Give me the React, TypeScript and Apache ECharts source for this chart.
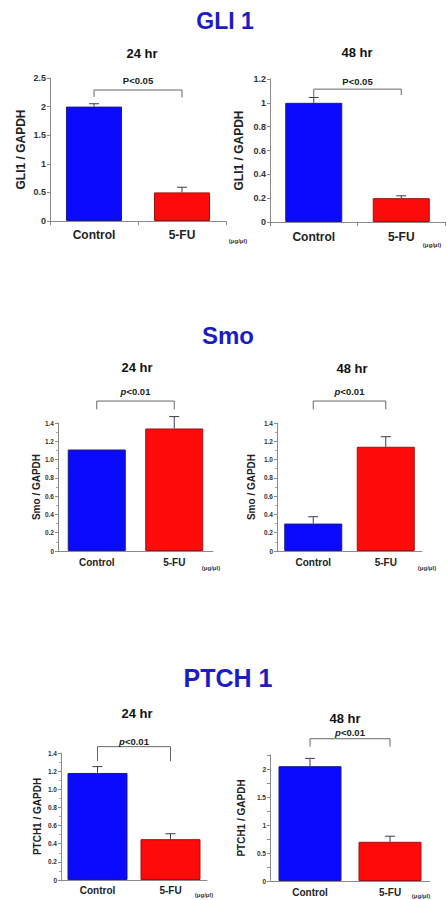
import React, { useEffect, useRef } from "react";
import * as echarts from "echarts";

// ---------- data ----------
const categories = ["Control", "5-FU"];
const barColors = ["#0a0aff", "#ff0a0a"];
const barBorders = ["#1a1a8a", "#a01010"];

const gli24Values = [2.0, 0.5];
const gli24ErrTop = [2.05, 0.59];
const gli48Values = [1.0, 0.2];
const gli48ErrTop = [1.045, 0.22];

const smo24Values = [1.11, 1.34];
const smo24ErrTop = [1.11, 1.47];
const smo48Values = [0.3, 1.14];
const smo48ErrTop = [0.375, 1.25];

const ptch24Values = [1.18, 0.45];
const ptch24ErrTop = [1.25, 0.51];
const ptch48Values = [2.05, 0.7];
const ptch48ErrTop = [2.19, 0.8];

// bracket: [top, left leg bottom, right leg bottom, label level]
const gli24Bracket = [2.29, 2.17, 2.16, 2.45];
const gli48Bracket = [1.115, 1.05, 1.065, 1.175];
const smo24Bracket = [1.64, 1.55, 1.55, 1.75];
const smo48Bracket = [1.64, 1.55, 1.55, 1.75];
const ptch24Bracket = [1.47, 1.31, 1.31, 1.525];
const ptch48Bracket = [2.54, 2.4, 2.4, 2.66];

const gliSig = "P<0.05";
const pSig = "{i|p}<0.01";
const unitLabel = "(μg/μl)";

const FONT = "Liberation Sans, Arial, sans-serif";

type Panel = {
  grid: { left: number; top: number; width: number; height: number };
  values: number[];
  errTop: number[];
  bracket: number[];
  sig: string;
  sigSize: number;
  yName: string;
  yNameGap: number;
  yMax: number;
  yInterval: number;
  yFormatter?: (v: number) => string;
  yLabelSize: number;
  xLabelSize: number;
  xLabelMargin: number;
  barWidth: number;
  xTicks: boolean;
  minor: boolean;
  yNameSize: number;
};

const oneDec = (v: number) => (v === 0 ? "0" : v.toFixed(1));
const halfOnly = (v: number) =>
  Math.abs(v * 2 - Math.round(v * 2)) < 1e-6 ? String(+v.toFixed(2)) : "";

const panels: Panel[] = [
  {
    grid: { left: 50, top: 78, width: 176, height: 143 },
    values: gli24Values, errTop: gli24ErrTop, bracket: gli24Bracket,
    sig: gliSig, sigSize: 9.5, yName: "GLI1 / GAPDH", yNameGap: 23,
    yMax: 2.5, yInterval: 0.5, yLabelSize: 9, xLabelSize: 12, xLabelMargin: 8,
    barWidth: 56, xTicks: true, minor: false, yNameSize: 12,
  },
  {
    grid: { left: 270, top: 79, width: 175, height: 143 },
    values: gli48Values, errTop: gli48ErrTop, bracket: gli48Bracket,
    sig: gliSig, sigSize: 9.5, yName: "GLI1 / GAPDH", yNameGap: 25,
    yMax: 1.2, yInterval: 0.2, yLabelSize: 9, xLabelSize: 12, xLabelMargin: 9,
    barWidth: 57, xTicks: true, minor: false, yNameSize: 12,
  },
  {
    grid: { left: 58, top: 423, width: 155, height: 128 },
    values: smo24Values, errTop: smo24ErrTop, bracket: smo24Bracket,
    sig: pSig, sigSize: 9.5, yName: "Smo / GAPDH", yNameGap: 17,
    yMax: 1.4, yInterval: 0.2, yFormatter: oneDec, yLabelSize: 6.5, xLabelSize: 10,
    xLabelMargin: 6, barWidth: 58, xTicks: false, minor: true, yNameSize: 10,
  },
  {
    grid: { left: 277, top: 423, width: 145, height: 128 },
    values: smo48Values, errTop: smo48ErrTop, bracket: smo48Bracket,
    sig: pSig, sigSize: 9.5, yName: "Smo / GAPDH", yNameGap: 21,
    yMax: 1.4, yInterval: 0.2, yFormatter: oneDec, yLabelSize: 6.5, xLabelSize: 10,
    xLabelMargin: 6, barWidth: 58, xTicks: false, minor: true, yNameSize: 10,
  },
  {
    grid: { left: 61, top: 753, width: 146, height: 127 },
    values: ptch24Values, errTop: ptch24ErrTop, bracket: ptch24Bracket,
    sig: pSig, sigSize: 9.5, yName: "PTCH1 / GAPDH", yNameGap: 19,
    yMax: 1.4, yInterval: 0.2, yFormatter: oneDec, yLabelSize: 6.5, xLabelSize: 10,
    xLabelMargin: 5, barWidth: 60, xTicks: false, minor: true, yNameSize: 10,
  },
  {
    grid: { left: 270, top: 755, width: 160, height: 126 },
    values: ptch48Values, errTop: ptch48ErrTop, bracket: ptch48Bracket,
    sig: pSig, sigSize: 9.5, yName: "PTCH1 / GAPDH", yNameGap: 24,
    yMax: 2.25, yInterval: 0.25, yFormatter: halfOnly, yLabelSize: 6.5, xLabelSize: 10,
    xLabelMargin: 6, barWidth: 63, xTicks: false, minor: false, yNameSize: 10,
  },
];

const headings = [
  { text: "GLI 1", x: 225, y: 21, size: 23 },
  { text: "Smo", x: 228, y: 335, size: 24 },
  { text: "PTCH 1", x: 228, y: 678, size: 25 },
];
const subHeadings = [
  { text: "24 hr", x: 142, y: 53 },
  { text: "48 hr", x: 357, y: 52 },
  { text: "24 hr", x: 137, y: 367 },
  { text: "48 hr", x: 352, y: 368 },
  { text: "24 hr", x: 137, y: 713 },
  { text: "48 hr", x: 345, y: 718 },
];
const unitPos = [
  { x: 238, y: 241 },
  { x: 432, y: 245 },
  { x: 211, y: 568 },
  { x: 427, y: 568 },
  { x: 204, y: 895 },
  { x: 421, y: 896 },
];

function buildOption() {
  const grid: any[] = [];
  const xAxis: any[] = [];
  const yAxis: any[] = [];
  const series: any[] = [];

  panels.forEach((p, i) => {
    grid.push({ ...p.grid, containLabel: false });
    xAxis.push({
      type: "category",
      gridIndex: i,
      data: categories,
      axisLine: { lineStyle: { color: "#8a8a8a", width: 1 } },
      axisTick: { show: p.xTicks, length: 4, lineStyle: { color: "#8a8a8a" } },
      axisLabel: {
        fontSize: p.xLabelSize,
        fontWeight: "bold",
        color: "#222",
        fontFamily: FONT,
        margin: p.xLabelMargin,
      },
    });
    yAxis.push({
      type: "value",
      gridIndex: i,
      min: 0,
      max: p.yMax,
      interval: p.yInterval,
      name: p.yName,
      nameLocation: "middle",
      nameRotate: 90,
      nameGap: p.yNameGap,
      nameTextStyle: {
        fontSize: p.yNameSize,
        fontWeight: "bold",
        color: "#222",
        fontFamily: FONT,
      },
      axisLine: { show: true, lineStyle: { color: "#8a8a8a", width: 1 } },
      axisTick: { show: true, length: 3, lineStyle: { color: "#8a8a8a" } },
      minorTick: { show: p.minor, splitNumber: 2, length: 2, lineStyle: { color: "#aaa" } },
      splitLine: { show: false },
      axisLabel: {
        fontSize: p.yLabelSize,
        fontWeight: "bold",
        color: "#333",
        fontFamily: FONT,
        margin: 4,
        formatter: p.yFormatter,
        showMaxLabel: true,
      },
    });
    series.push({
      type: "bar",
      xAxisIndex: i,
      yAxisIndex: i,
      barWidth: p.barWidth,
      data: p.values.map((v, j) => ({
        value: v,
        itemStyle: { color: barColors[j], borderColor: barBorders[j], borderWidth: 1 },
      })),
      silent: true,
    });
    series.push({
      type: "custom",
      xAxisIndex: i,
      yAxisIndex: i,
      data: p.values.map((v, j) => [j, v, p.errTop[j]]),
      renderItem: (params: any, api: any) => {
        if (api.value(2) <= api.value(1)) return { type: "group", children: [] };
        const base = api.coord([api.value(0), api.value(1)]);
        const top = api.coord([api.value(0), api.value(2)]);
        const st = { stroke: "#3a3a50", lineWidth: 1 };
        return {
          type: "group",
          children: [
            { type: "line", shape: { x1: base[0], y1: base[1], x2: top[0], y2: top[1] }, style: st },
            { type: "line", shape: { x1: top[0] - 5, y1: top[1], x2: top[0] + 5, y2: top[1] }, style: st },
          ],
        };
      },
      z: 3,
      silent: true,
    });
    series.push({
      type: "custom",
      xAxisIndex: i,
      yAxisIndex: i,
      data: [p.bracket],
      encode: { x: -1, y: 0 },
      renderItem: (params: any, api: any) => {
        const topV = api.value(0);
        const lV = api.value(1);
        const rV = api.value(2);
        const tV = api.value(3);
        const lt = api.coord([0, topV]);
        const lb = api.coord([0, lV]);
        const rt = api.coord([1, topV]);
        const rb = api.coord([1, rV]);
        const ty = api.coord([0, tV])[1];
        const tx = (lt[0] + rt[0]) / 2;
        return {
          type: "group",
          children: [
            {
              type: "polyline",
              shape: { points: [[lb[0], lb[1]], [lt[0], lt[1]], [rt[0], rt[1]], [rb[0], rb[1]]] },
              style: { stroke: "#666", lineWidth: 1, fill: null },
            },
            {
              type: "text",
              style: {
                text: p.sig,
                x: tx,
                y: ty,
                align: "center",
                verticalAlign: "middle",
                fontSize: p.sigSize,
                fontWeight: "bold",
                fontFamily: FONT,
                fill: "#222",
                rich: {
                  i: { fontStyle: "italic", fontSize: p.sigSize, fontWeight: "bold", fontFamily: FONT, fill: "#222" },
                },
              },
            },
          ],
        };
      },
      z: 3,
      silent: true,
    });
  });

  const graphic: any[] = [];
  headings.forEach((h) =>
    graphic.push({
      type: "text",
      x: h.x,
      y: h.y,
      style: {
        text: h.text,
        fontSize: h.size,
        fontWeight: "bold",
        fontFamily: FONT,
        fill: "#1c1cc4",
        align: "center",
        verticalAlign: "middle",
      },
    })
  );
  subHeadings.forEach((h) =>
    graphic.push({
      type: "text",
      x: h.x,
      y: h.y,
      style: {
        text: h.text,
        fontSize: 13,
        fontWeight: "bold",
        fontFamily: FONT,
        fill: "#111",
        align: "center",
        verticalAlign: "middle",
      },
    })
  );
  unitPos.forEach((u) =>
    graphic.push({
      type: "text",
      x: u.x,
      y: u.y,
      style: {
        text: unitLabel,
        fontSize: 6,
        fontWeight: "bold",
        fontFamily: FONT,
        fill: "#333",
        align: "center",
        verticalAlign: "middle",
      },
    })
  );

  return {
    animation: false,
    backgroundColor: "#ffffff",
    grid,
    xAxis,
    yAxis,
    series,
    graphic,
  };
}

export default function App() {
  const ref = useRef<HTMLDivElement>(null);
  useEffect(() => {
    if (!ref.current) return;
    const chart = echarts.init(ref.current, undefined, { renderer: "svg" });
    chart.setOption(buildOption() as any);
    return () => chart.dispose();
  }, []);
  return (
    <div
      ref={ref}
      style={{ position: "absolute", left: 0, top: 0, width: 447, height: 900, background: "#fff" }}
    />
  );
}
